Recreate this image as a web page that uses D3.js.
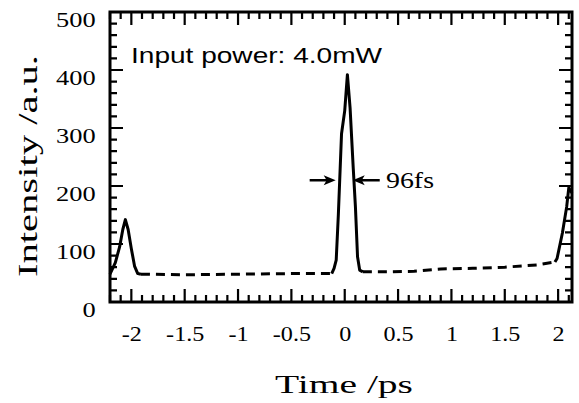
<!DOCTYPE html>
<html>
<head>
<meta charset="utf-8">
<script src="https://cdn.jsdelivr.net/npm/d3@7"></script>
<style>
    body { margin: 0; background: #fff; }
    svg { display: block; }
</style>
</head>
<body>
<div id="chart"></div>
<script>
// left satellite pulse (solid)
const leftPulseT = [-2.2, -2.15, -2.11, -2.08, -2.056, -2.03, -2.0, -1.97, -1.94, -1.91];
const leftPulseV = [48, 68, 95, 125, 142, 125, 92, 62, 49, 48];
// background between pulses (dashed)
const baseLeftT = [-1.91, -1.5, -1.0, -0.5, -0.122];
const baseLeftV = [48, 47, 48, 49, 49];
// main pulse (solid)
const mainPulseT = [-0.122, -0.1, -0.08, -0.06, -0.03, 0.0, 0.025, 0.05, 0.08, 0.1, 0.12, 0.14, 0.17];
const mainPulseV = [49, 58, 72, 150, 290, 330, 392, 335, 230, 165, 78, 55, 52];
const baseRightT = [0.17, 0.4, 0.65, 0.9, 1.2, 1.5, 1.8, 1.97];
const baseRightV = [52, 52, 53, 57, 58, 60, 64, 69];
// right satellite pulse (solid)
const rightPulseT = [1.97, 1.99, 2.04, 2.08, 2.1, 2.13];
const rightPulseV = [69, 75, 119, 164, 197, 188];

const xMajor = [-2, -1.5, -1, -0.5, 0, 0.5, 1, 1.5, 2];
const yMajor = [0, 100, 200, 300, 400, 500];
const fwhmT = [-0.085, 0.075];
const fwhmLevel = 210;

const width = 579, height = 403;
const x = d3.scaleLinear().domain([-2.2, 2.13]).range([110, 572]);
const y = d3.scaleLinear().domain([0, 500]).range([302, 12]);

const svg = d3.select("#chart").append("svg")
    .attr("width", width)
    .attr("height", height);

const xMinor = d3.range(-22, 22).map(d => d / 10).filter(d => Math.abs(d * 2 - Math.round(d * 2)) > 1e-6);
const yMinor = d3.range(0, 501, 20).filter(d => d % 100 !== 0);
const serif = "'Liberation Serif', 'Times New Roman', serif";

// inward tick marks, one path per side
const xTicks = xMajor.map(v => [v, 13]).concat(xMinor.map(v => [v, 7]));
const yTicks = yMajor.map(v => [v, 13]).concat(yMinor.map(v => [v, 7]));
let tickPath = "";
xTicks.forEach(([v, len]) => {
    const px = x(v);
    tickPath += `M${px},${y(0)}V${y(0) - len}M${px},${y(500)}V${y(500) + len}`;
});
yTicks.forEach(([v, len]) => {
    const py = y(v);
    tickPath += `M${x(-2.2)},${py}H${x(-2.2) + len}M${x(2.13)},${py}H${x(2.13) - len}`;
});
svg.append("path")
    .attr("d", tickPath)
    .attr("fill", "none")
    .attr("stroke", "#000")
    .attr("stroke-width", 2.2);

// tick labels
const xAxis = svg.append("g").attr("transform", `translate(0,${y(0)})`)
    .call(d3.axisBottom(x).tickValues(xMajor).tickSize(0).tickPadding(24).tickFormat(d => String(d)))
    .call(g => g.select(".domain").remove());
const yAxis = svg.append("g").attr("transform", `translate(${x(-2.2)},0)`)
    .call(d3.axisLeft(y).tickValues(yMajor).tickSize(0).tickPadding(12))
    .call(g => g.select(".domain").remove());

xAxis.selectAll("text")
    .attr("fill", "#000")
    .style("font-family", serif)
    .style("font-size", "21px")
    .attr("transform", "scale(1.15,1)");
yAxis.selectAll("text")
    .attr("fill", "#000")
    .style("font-family", serif)
    .style("font-size", "22px")
    .attr("transform", "translate(0,7) scale(1.2,1)");

// frame
svg.append("rect")
    .attr("x", x(-2.2)).attr("y", y(500))
    .attr("width", x(2.13) - x(-2.2)).attr("height", y(0) - y(500))
    .attr("fill", "none").attr("stroke", "#000").attr("stroke-width", 3);

const lineGen = d3.line().x(d => x(d[0])).y(d => y(d[1]));
const pairs = (ts, vs) => ts.map((t, i) => [t, vs[i]]);

const solidSegs = [pairs(leftPulseT, leftPulseV), pairs(mainPulseT, mainPulseV), pairs(rightPulseT, rightPulseV)];
const dashedSegs = [pairs(baseLeftT, baseLeftV), pairs(baseRightT, baseRightV)];

svg.selectAll("path.solid").data(solidSegs).enter().append("path")
    .attr("class", "solid")
    .attr("d", lineGen)
    .attr("fill", "none").attr("stroke", "#000").attr("stroke-width", 3)
    .attr("stroke-linejoin", "round");
svg.selectAll("path.dashed").data(dashedSegs).enter().append("path")
    .attr("class", "dashed")
    .attr("d", lineGen)
    .attr("fill", "none").attr("stroke", "#000").attr("stroke-width", 3)
    .attr("stroke-dasharray", "9,6");

// FWHM arrows
const ay = y(fwhmLevel);
const lt = x(fwhmT[0]), rt = x(fwhmT[1]);
svg.append("path")
    .attr("d", `M${lt - 26},${ay}H${lt - 8}M${rt + 8},${ay}H${rt + 27}`)
    .attr("stroke", "#000").attr("stroke-width", 2.5);
svg.append("path")
    .attr("d", `M${lt},${ay}L${lt - 12},${ay - 5}L${lt - 9},${ay}L${lt - 12},${ay + 5}Z` +
               `M${rt},${ay}L${rt + 12},${ay - 5}L${rt + 9},${ay}L${rt + 12},${ay + 5}Z`)
    .attr("fill", "#000");

svg.append("text")
    .attr("x", 386).attr("y", 188)
    .attr("textLength", 48).attr("lengthAdjust", "spacingAndGlyphs")
    .style("font-family", serif)
    .style("font-size", "24px")
    .text("96fs");

svg.append("text")
    .attr("x", 131).attr("y", 63)
    .attr("textLength", 251).attr("lengthAdjust", "spacingAndGlyphs")
    .style("font-family", "'Liberation Sans', Arial, sans-serif")
    .style("font-size", "22px")
    .text("Input power:  4.0mW");

svg.append("text")
    .attr("x", 344).attr("y", 393)
    .attr("text-anchor", "middle")
    .attr("textLength", 138).attr("lengthAdjust", "spacingAndGlyphs")
    .style("font-family", serif)
    .style("font-size", "26px")
    .text("Time  /ps");

svg.append("text")
    .attr("transform", "translate(37,166) rotate(-90)")
    .attr("text-anchor", "middle")
    .attr("textLength", 222).attr("lengthAdjust", "spacingAndGlyphs")
    .style("font-family", serif)
    .style("font-size", "27px")
    .text("Intensity  /a.u.");
</script>
</body>
</html>
